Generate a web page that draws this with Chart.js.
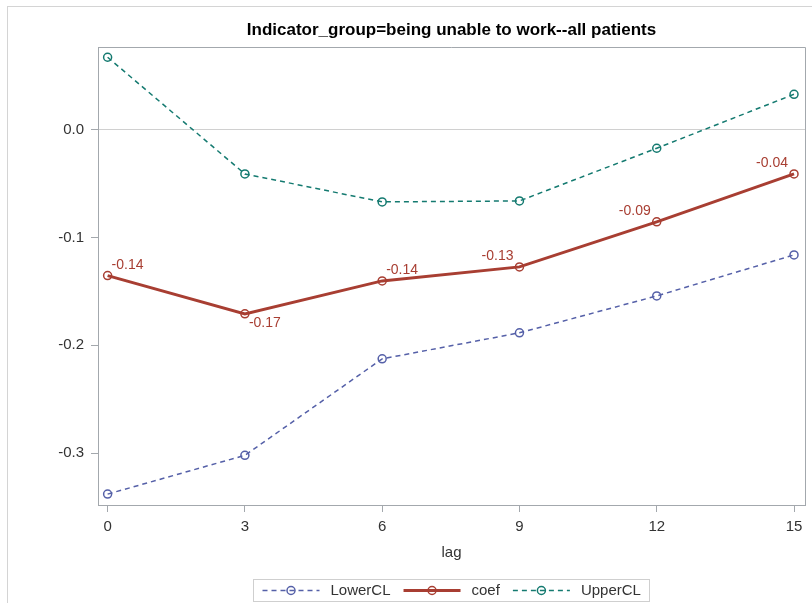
<!DOCTYPE html>
<html>
<head>
<meta charset="utf-8">
<script src="https://cdn.jsdelivr.net/npm/chart.js@4"></script>
<style>
  html, body { margin: 0; padding: 0; background: #fff; }
  #wrap { width: 812px; height: 603px; }
</style>
</head>
<body>
<div id="wrap"><canvas id="c" width="812" height="603"></canvas></div>
<script>
// lag 值和三条线
const lags = [0, 3, 6, 9, 12, 15];
const lowerCL = [-0.3378, -0.3019, -0.2125, -0.1884, -0.1542, -0.1162];
const coef = [-0.1354, -0.1708, -0.1403, -0.1273, -0.0856, -0.0412];
const upperCL = [0.0669, -0.0412, -0.0671, -0.0662, -0.0174, 0.0326];
const yTicks = [-0.3, -0.2, -0.1, 0.0];
const xTicks = [0, 3, 6, 9, 12, 15];
const chartTitle = 'Indicator_group=being unable to work--all patients';

const FONT = "'Liberation Sans', Arial, sans-serif";
const FRAME = '#a3a8ad';

function toPoints(vals) {
    return lags.map((x, i) => ({ x: x, y: vals[i] }));
}

function lineSet(label, vals, color, dash, width) {
    return {
        label: label,
        data: toPoints(vals),
        borderColor: color,
        borderWidth: width,
        borderDash: dash,
        pointStyle: 'circle',
        pointRadius: 4,
        pointBorderWidth: 1.5,
        pointBorderColor: color,
        pointBackgroundColor: 'transparent',
        pointHoverRadius: 4,
        tension: 0,
        fill: false
    };
}

// 外框 + 绘图区上/右边框 + 标题（按绘图区居中）
const framePlugin = {
    id: 'frame',
    beforeDraw(chart) {
        const c = chart.ctx;
        c.save();
        c.strokeStyle = '#d4d4d4';
        c.lineWidth = 1;
        c.strokeRect(7.5, 6.5, 900, 700);
        c.restore();
    },
    afterDraw(chart) {
        const a = chart.chartArea;
        const c = chart.ctx;
        c.save();
        c.strokeStyle = FRAME;
        c.lineWidth = 1;
        c.beginPath();
        c.moveTo(a.left, a.top + 0.5);
        c.lineTo(a.right + 0.5, a.top + 0.5);
        c.lineTo(a.right + 0.5, a.bottom);
        c.stroke();
        c.font = 'bold 17px ' + FONT;
        c.fillStyle = '#000';
        c.textAlign = 'center';
        c.textBaseline = 'middle';
        c.fillText(chartTitle, (a.left + a.right) / 2, 30);
        c.restore();
    }
};

// coef 数据标签
const valueLabelPlugin = {
    id: 'valueLabels',
    afterDatasetsDraw(chart, args, opts) {
        const meta = chart.getDatasetMeta(opts.datasetIndex);
        const ds = chart.data.datasets[opts.datasetIndex];
        const c = chart.ctx;
        c.save();
        c.font = '14px ' + FONT;
        c.fillStyle = ds.borderColor;
        c.textBaseline = 'middle';
        meta.data.forEach((pt, i) => {
            const txt = ds.data[i].y.toFixed(2);
            const pos = opts.placement[i];
            const dy = pos[0] === 'n' ? -10.5 : 9.5;
            if (pos[1] === 'e') {
                c.textAlign = 'left';
                c.fillText(txt, pt.x + 4, pt.y + dy);
            } else {
                c.textAlign = 'right';
                c.fillText(txt, pt.x - 6, pt.y + dy);
            }
        });
        c.restore();
    }
};

// 底部图例（线 + 点 样本）
const legendPlugin = {
    id: 'boxLegend',
    afterDraw(chart) {
        const c = chart.ctx;
        const sets = chart.data.datasets;
        c.save();
        c.font = '15px ' + FONT;
        const sampleW = 57, gapA = 11, gapB = 13, padX = 9;
        const widths = sets.map(d => c.measureText(d.label).width);
        let total = padX * 2;
        widths.forEach((w, i) => { total += sampleW + gapA + w + (i < sets.length - 1 ? gapB : 0); });
        const cx = 451.5;
        const top = 579.5, h = 22, cy = 590.5;
        let x = Math.round(cx - total / 2) + 0.5;
        c.strokeStyle = '#cfcfcf';
        c.lineWidth = 1;
        c.strokeRect(x, top, Math.round(total), h);
        x += padX;
        sets.forEach((d, i) => {
            c.strokeStyle = d.borderColor;
            c.lineWidth = d.borderWidth;
            c.setLineDash(d.borderDash);
            c.beginPath();
            c.moveTo(x, cy);
            c.lineTo(x + sampleW, cy);
            c.stroke();
            c.setLineDash([]);
            c.lineWidth = 1.5;
            c.beginPath();
            c.arc(x + sampleW / 2, cy, 4, 0, Math.PI * 2);
            c.stroke();
            x += sampleW + gapA;
            c.fillStyle = '#333';
            c.textAlign = 'left';
            c.textBaseline = 'middle';
            c.fillText(d.label, x, cy);
            x += widths[i] + gapB;
        });
        c.restore();
    }
};

new Chart(document.getElementById('c').getContext('2d'), {
    type: 'line',
    data: {
        datasets: [
            lineSet('LowerCL', lowerCL, '#5560a8', [5, 4], 1.5),
            lineSet('coef', coef, '#a83e32', [], 3),
            lineSet('UpperCL', upperCL, '#147a70', [5, 4], 1.5)
        ]
    },
    plugins: [framePlugin, valueLabelPlugin, legendPlugin],
    options: {
        responsive: false,
        animation: false,
        events: [],
        layout: { padding: { top: 47, left: 8, right: 7, bottom: 41 } },
        plugins: {
            legend: { display: false },
            tooltip: { enabled: false },
            title: { display: false },
            valueLabels: { datasetIndex: 1, placement: ['ne', 'se', 'ne', 'nw', 'nw', 'nw'] }
        },
        scales: {
            x: {
                type: 'linear',
                min: -0.21,
                max: 15.24,
                afterBuildTicks: s => { s.ticks = xTicks.map(v => ({ value: v })); },
                afterFit: s => { s.height = 57; },
                ticks: {
                    color: '#333',
                    padding: 6,
                    maxRotation: 0,
                    font: { family: FONT, size: 15 }
                },
                grid: {
                    drawOnChartArea: false,
                    tickLength: 7,
                    tickColor: FRAME
                },
                border: { color: FRAME },
                title: {
                    display: true,
                    text: 'lag',
                    color: '#333',
                    font: { family: FONT, size: 15 },
                    padding: 0
                }
            },
            y: {
                min: -0.3479,
                max: 0.0764,
                afterBuildTicks: s => { s.ticks = yTicks.map(v => ({ value: v })); },
                afterFit: s => { s.width = 90; },
                ticks: {
                    color: '#333',
                    padding: 7,
                    font: { family: FONT, size: 15 },
                    callback: v => v.toFixed(1)
                },
                grid: {
                    color: ctx => (ctx.tick && ctx.tick.value === 0 ? '#d0d0d0' : 'transparent'),
                    tickLength: 7,
                    tickColor: FRAME
                },
                border: { color: FRAME }
            }
        }
    }
});
</script>
</body>
</html>
